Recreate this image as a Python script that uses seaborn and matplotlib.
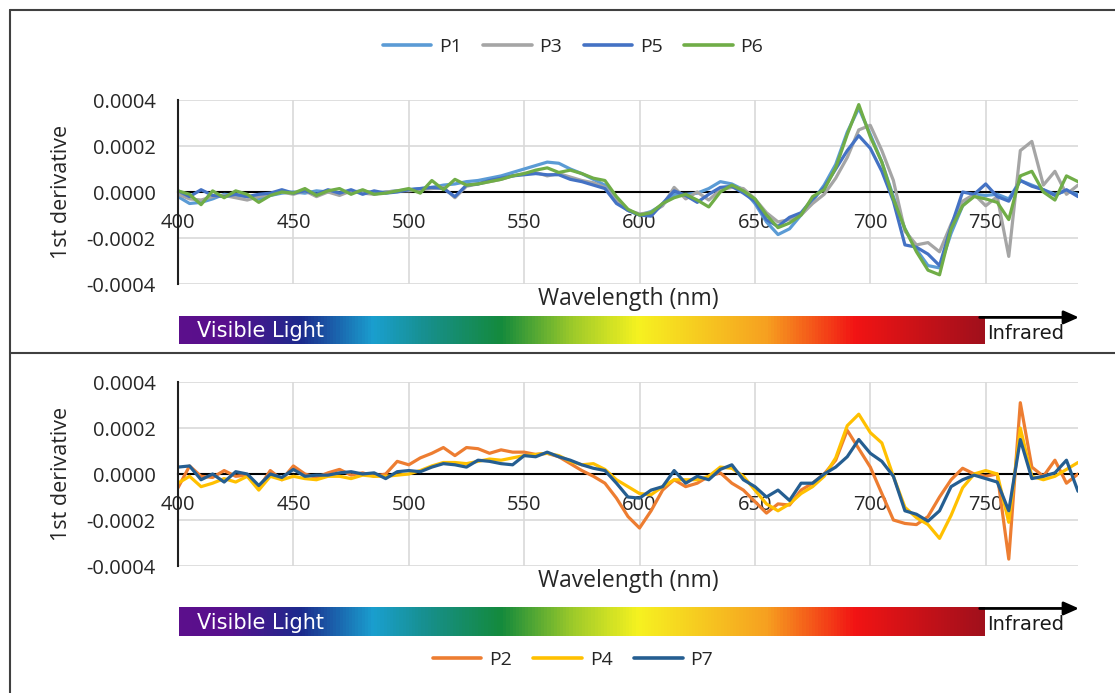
import numpy as np
import pandas as pd
import seaborn as sns
import matplotlib.pyplot as plt
from matplotlib.colors import LinearSegmentedColormap
from matplotlib.lines import Line2D
from matplotlib.ticker import FuncFormatter

# wavelength grid (nm), values below in units of 1e-4
wavelength = list(range(400, 791, 5))

p1 = [-0.2, -0.5, -0.45, -0.3, -0.1, -0.15, -0.2, -0.3, -0.15, -0.05,
      0.0, -0.05, 0.05, 0.0, -0.05, 0.0, 0.05, -0.05, 0.0, 0.05,
      0.1, 0.15, 0.2, 0.3, 0.35, 0.45, 0.5, 0.6, 0.7, 0.85,
      1.0, 1.15, 1.3, 1.25, 1.0, 0.8, 0.55, 0.3, -0.35, -0.8,
      -1.0, -0.85, -0.55, -0.1, -0.1, -0.05, 0.15, 0.45, 0.35, 0.1,
      -0.5, -1.3, -1.85, -1.6, -1.0, -0.4, 0.3, 1.2, 2.6, 3.65,
      2.5, 1.3, -0.2, -1.6, -2.5, -3.2, -3.3, -1.8, -0.6, -0.1,
      -0.15, -0.1, -0.3, 0.5, 0.3, 0.1, -0.1, 0.05, -0.1]
p3 = [-0.1, -0.3, -0.35, -0.2, -0.15, -0.25, -0.35, -0.2, -0.1, 0.0,
      -0.1, 0.05, -0.2, 0.0, -0.15, 0.05, -0.05, -0.1, 0.0, 0.05,
      0.05, 0.1, 0.15, 0.2, -0.25, 0.25, 0.35, 0.45, 0.55, 0.7,
      0.8, 0.85, 0.7, 0.8, 0.65, 0.5, 0.4, 0.2, -0.4, -0.8,
      -0.95, -0.9, -0.6, 0.2, -0.3, 0.0, -0.35, 0.1, 0.2, 0.15,
      -0.3, -0.9, -1.3, -1.2, -1.0, -0.5, -0.1, 0.6, 1.5, 2.7,
      2.9, 1.8, 0.5, -1.7, -2.3, -2.2, -2.6, -1.4, -0.4, -0.1,
      -0.6, -0.2, -2.8, 1.8, 2.2, 0.3, 0.9, -0.1, 0.3]
p5 = [0.05, -0.2, 0.1, -0.15, -0.2, -0.1, -0.2, -0.1, -0.05, 0.1,
      -0.05, 0.05, -0.1, 0.1, -0.05, 0.1, -0.1, 0.05, -0.05, 0.0,
      0.1, 0.15, 0.2, 0.15, -0.2, 0.3, 0.35, 0.5, 0.6, 0.7,
      0.75, 0.8, 0.75, 0.75, 0.55, 0.45, 0.3, 0.15, -0.5, -0.8,
      -1.0, -1.05, -0.5, 0.05, -0.15, -0.45, -0.1, 0.2, 0.25, -0.05,
      -0.4, -1.2, -1.5, -1.1, -0.9, -0.3, 0.2, 1.0, 1.8, 2.45,
      1.9, 0.9, -0.4, -2.3, -2.4, -2.7, -3.2, -1.5, 0.0, -0.1,
      0.35, -0.2, -0.4, 0.5, 0.25, 0.1, -0.15, 0.1, -0.2]
p6 = [0.05, -0.1, -0.55, 0.05, -0.25, 0.05, -0.1, -0.45, -0.15, 0.0,
      -0.05, 0.15, -0.15, 0.05, 0.15, -0.1, 0.1, -0.1, -0.05, 0.05,
      0.15, -0.05, 0.5, 0.1, 0.55, 0.3, 0.35, 0.45, 0.55, 0.7,
      0.8, 0.95, 1.05, 0.85, 0.95, 0.8, 0.6, 0.5, -0.2, -0.75,
      -1.0, -0.9, -0.5, -0.25, -0.1, -0.35, -0.65, 0.0, 0.3, 0.05,
      -0.3, -1.0, -1.55, -1.35, -1.0, -0.2, 0.1, 1.05, 2.5, 3.8,
      2.4, 1.3, -0.3, -1.6, -2.6, -3.4, -3.6, -1.6, -0.6, -0.2,
      -0.3, -0.45, -1.2, 0.7, 0.9, 0.0, -0.35, 0.7, 0.45]

p2 = [-0.6, 0.35, -0.1, -0.15, 0.15, -0.1, -0.05, -0.6, 0.15, -0.25,
      0.35, 0.0, -0.15, 0.05, 0.2, -0.05, 0.05, -0.1, 0.0, 0.55,
      0.4, 0.7, 0.9, 1.15, 0.8, 1.15, 1.1, 0.9, 1.05, 0.95,
      0.95, 0.85, 0.9, 0.75, 0.45, 0.15, -0.1, -0.4, -1.05, -1.85,
      -2.35, -1.6, -0.7, -0.25, -0.55, -0.4, -0.1, 0.05, -0.4, -0.7,
      -1.2, -1.7, -1.3, -1.35, -0.7, -0.4, 0.0, 0.6, 1.9, 1.1,
      0.3, -0.85, -2.0, -2.15, -2.2, -1.85, -1.0, -0.25, 0.25, 0.0,
      -0.1, 0.0, -3.7, 3.1, 0.3, -0.1, 0.6, -0.4, 0.0]
p4 = [-0.4, -0.1, -0.55, -0.4, -0.2, -0.35, -0.1, -0.7, -0.1, -0.25,
      -0.1, -0.2, -0.25, -0.1, -0.1, -0.2, -0.05, -0.1, -0.1, -0.05,
      0.0, 0.15, 0.35, 0.5, 0.5, 0.45, 0.55, 0.65, 0.6, 0.7,
      0.8, 0.85, 0.9, 0.8, 0.55, 0.4, 0.45, 0.2, -0.25, -0.55,
      -0.85, -0.9, -0.55, -0.25, -0.25, -0.25, -0.1, 0.3, 0.25, -0.1,
      -0.7, -1.3, -1.6, -1.3, -0.85, -0.55, -0.1, 0.7, 2.1, 2.6,
      1.8, 1.35, -0.1, -1.45, -1.9, -2.2, -2.8, -1.8, -0.6, 0.0,
      0.15, 0.0, -2.1, 2.0, -0.1, -0.25, -0.1, 0.2, 0.5]
p7 = [0.3, 0.35, -0.25, 0.0, -0.35, 0.1, 0.0, -0.5, 0.0, -0.15,
      0.2, -0.1, -0.05, -0.05, 0.05, 0.1, 0.0, 0.05, -0.2, 0.1,
      0.15, 0.1, 0.3, 0.45, 0.4, 0.3, 0.6, 0.55, 0.45, 0.4,
      0.8, 0.75, 0.95, 0.75, 0.6, 0.4, 0.25, 0.15, -0.4, -1.0,
      -1.05, -0.7, -0.55, 0.15, -0.4, -0.1, -0.25, 0.2, 0.4, -0.25,
      -0.55, -1.0, -0.7, -1.15, -0.4, -0.4, 0.0, 0.3, 0.75, 1.5,
      0.9, 0.55, -0.1, -1.6, -1.75, -2.05, -1.6, -0.55, -0.25, -0.05,
      -0.2, -0.35, -1.6, 1.5, -0.2, -0.1, 0.05, 0.6, -0.75]

top_series = {'P1': p1, 'P3': p3, 'P5': p5, 'P6': p6}
bottom_series = {'P2': p2, 'P4': p4, 'P7': p7}
colors = {'P1': '#5B9BD5', 'P3': '#A5A5A5', 'P5': '#4472C4', 'P6': '#70AD47',
          'P2': '#ED7D31', 'P4': '#FFC000', 'P7': '#255E91'}

sns.set_style('white')
plt.rcParams['font.family'] = ['Open Sans', 'DejaVu Sans']
narrow = ['Liberation Sans Narrow', 'DejaVu Sans Condensed', 'DejaVu Sans']

W, H = 1115, 693
fig = plt.figure(figsize=(W / 100, H / 100), dpi=100)


def box(x0, y0, x1, y1):
    return [x0 / W, 1 - y1 / H, (x1 - x0) / W, (y1 - y0) / H]


spectrum = LinearSegmentedColormap.from_list('spectrum', [
    (0.0, '#5c0f8c'), (0.06, '#58108e'), (0.15, '#1c2a8c'), (0.24, '#1a9fcf'),
    (0.31, '#178f8a'), (0.40, '#148a3c'), (0.49, '#9fcb2a'), (0.57, '#f6f220'),
    (0.73, '#f7a020'), (0.84, '#f21414'), (1.0, '#a0101c')])


def draw_panel(ax, series):
    wide = pd.DataFrame(series, index=pd.Index(wavelength, name='Wavelength')) * 1e-4
    long = wide.reset_index().melt(id_vars='Wavelength', var_name='Series',
                                   value_name='Derivative')
    sns.lineplot(data=long, x='Wavelength', y='Derivative', hue='Series',
                 palette=colors, linewidth=2.3, legend=False, ax=ax)
    ax.set_xlim(400, 790)
    ax.set_ylim(-0.0004, 0.0004)
    ax.set_xticks(range(400, 751, 50))
    ax.set_yticks([-0.0004, -0.0002, 0, 0.0002, 0.0004])
    ax.yaxis.set_major_formatter(FuncFormatter(
        lambda v, p: '0.0000' if abs(v) < 1e-9 else f'{v:.4f}'))
    ax.grid(True, color='#d9d9d9', lw=1.2)
    ax.set_axisbelow(True)
    ax.spines['top'].set_visible(False)
    ax.spines['right'].set_visible(False)
    ax.spines['bottom'].set_position(('data', 0))
    ax.spines['bottom'].set_color('black')
    ax.spines['bottom'].set_linewidth(1.5)
    ax.spines['bottom'].set_zorder(1)
    ax.spines['left'].set_color('#202020')
    ax.spines['left'].set_linewidth(1.5)
    ax.tick_params(length=0, labelsize=14.5, colors='#262626')
    ax.tick_params(axis='x', pad=15)
    ax.tick_params(axis='y', pad=16)
    ax.set_xlabel('Wavelength (nm)', fontsize=16.5, color='#262626')
    ax.xaxis.set_label_coords(0.5, -0.015)
    ax.set_ylabel('1st derivative', fontsize=15.5, color='#262626')
    ax.yaxis.set_label_coords(-0.118, 0.5)


def draw_bar(y0, y1):
    bax = fig.add_axes(box(179, y0, 985, y1))
    bax.imshow(np.linspace(0, 1, 256)[None, :], aspect='auto', cmap=spectrum,
               extent=[0, 1, 0, 1])
    bax.set_axis_off()
    bax.text(0.022, 0.45, 'Visible Light', color='white', fontsize=15,
             va='center', family=narrow, transform=bax.transAxes)
    bax.annotate('', xy=(1.12, 0.95), xytext=(0.99, 0.95), xycoords='axes fraction',
                 arrowprops=dict(arrowstyle='-|>,head_length=0.9,head_width=0.4',
                                 color='black', lw=2), annotation_clip=False)
    bax.text(1.003, 0.38, 'Infrared', fontsize=14, va='center', family=narrow,
             color='#1a1a1a', transform=bax.transAxes, clip_on=False)


ax_top = fig.add_axes(box(178, 100, 1078, 284))
draw_panel(ax_top, top_series)
draw_bar(316, 344)

ax_bot = fig.add_axes(box(178, 382, 1078, 566))
draw_panel(ax_bot, bottom_series)
draw_bar(607, 636)

for names, yc in [(list(top_series), 47), (list(bottom_series), 660)]:
    handles = [Line2D([], [], color=colors[n], lw=2.6) for n in names]
    fig.legend(handles, names, loc='center', bbox_to_anchor=(573 / W, 1 - yc / H),
               ncol=len(names), frameon=False, fontsize=14, handlelength=2.5,
               handletextpad=0.4, columnspacing=1.1)

# outer frame and panel divider
for x0, y0, x1, y1 in [(10, 10, 1115, 10), (10, 10, 10, 693), (10, 353, 1115, 353)]:
    fig.add_artist(Line2D([x0 / W, x1 / W], [1 - y0 / H, 1 - y1 / H],
                          color='#404040', lw=1.5, transform=fig.transFigure))

fig.savefig('out.png', dpi=100)
